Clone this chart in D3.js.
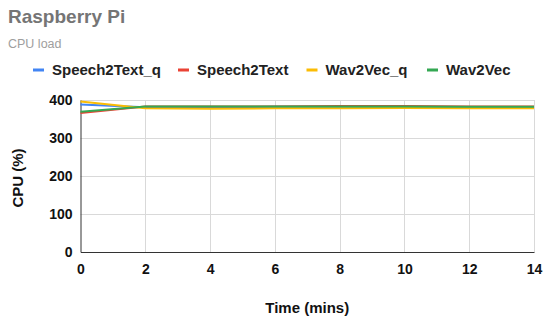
<!DOCTYPE html>
<html>
<head>
<meta charset="utf-8">
<script src="https://cdn.jsdelivr.net/npm/d3@7"></script>
<style>
  body { margin: 0; background: #fff; }
  text { font-family: "Liberation Sans", Arial, sans-serif; }
</style>
</head>
<body>
<div id="chart"></div>
<script>
const width = 550;
const height = 322;

// minutes
const times = [0, 2, 4, 6, 8, 10, 12, 14];

// CPU load (%)
const speech2TextQ = [388, 381, 381, 382, 382, 380, 381, 380];
const speech2Text  = [366, 383, 383, 383, 384, 384, 383, 383];
const wav2VecQ     = [396, 378, 377, 378, 378, 379, 378, 378];
const wav2Vec      = [369, 383, 383, 383, 383, 383, 382, 382];

const seriesNames = ["Speech2Text_q", "Speech2Text", "Wav2Vec_q", "Wav2Vec"];
const colors = ["#4285f4", "#ea4335", "#fbbc04", "#34a853"];

const xTicks = [0, 2, 4, 6, 8, 10, 12, 14];
const yTicks = [0, 100, 200, 300, 400];

const series = [speech2TextQ, speech2Text, wav2VecQ, wav2Vec].map((vals, i) => ({
  name: seriesNames[i],
  color: colors[i],
  values: vals.map((v, j) => ({ t: times[j], v: v }))
}));

const margin = { left: 80.5, right: 16, top: 100, bottom: 70 };

const x = d3.scaleLinear().domain([0, 14]).range([margin.left, width - margin.right]);
const y = d3.scaleLinear().domain([0, 400]).range([height - margin.bottom, margin.top]);

const svg = d3.select("#chart").append("svg")
  .attr("width", width)
  .attr("height", height);

// titles
svg.append("text")
  .attr("x", 8).attr("y", 23)
  .attr("fill", "#757575")
  .style("font-size", "19px").style("font-weight", "bold")
  .text("Raspberry Pi");

svg.append("text")
  .attr("x", 8).attr("y", 48)
  .attr("fill", "#9e9e9e")
  .style("font-size", "12.5px")
  .text("CPU load");

// legend (dash positions as in the original)
const legendX = [33, 178, 306.5, 427];
series.forEach((s, i) => {
  const lx = legendX[i];
  svg.append("rect")
    .attr("x", lx).attr("y", 68.5)
    .attr("width", 11).attr("height", 3)
    .attr("fill", s.color);
  svg.append("text")
    .attr("x", lx + 19).attr("y", 75)
    .attr("fill", "#222")
    .style("font-size", "15px").style("font-weight", "bold")
    .text(s.name);
});

// grid
svg.append("g")
  .selectAll("line")
  .data(yTicks.filter(d => d > 0))
  .join("line")
  .attr("x1", x(0)).attr("x2", x(14))
  .attr("y1", d => Math.round(y(d)) + 0.5).attr("y2", d => Math.round(y(d)) + 0.5)
  .attr("stroke", "#d9d9d9");

svg.append("g")
  .selectAll("line")
  .data(xTicks.filter(d => d > 0))
  .join("line")
  .attr("x1", d => Math.round(x(d)) + 0.5).attr("x2", d => Math.round(x(d)) + 0.5)
  .attr("y1", y(0)).attr("y2", y(400))
  .attr("stroke", "#d9d9d9");

// axes
const xAxis = svg.append("g")
  .attr("transform", `translate(0,${y(0)})`)
  .call(d3.axisBottom(x).tickValues(xTicks).tickSize(0).tickPadding(12));
xAxis.select(".domain").attr("stroke", "#333");

const yAxis = svg.append("g")
  .attr("transform", `translate(${x(0)},0)`)
  .call(d3.axisLeft(y).tickValues(yTicks).tickSize(0).tickPadding(8));
yAxis.select(".domain").attr("stroke", "#333");

svg.selectAll(".tick text")
  .attr("fill", "#111")
  .style("font-family", "'Liberation Sans', Arial, sans-serif")
  .style("font-size", "14px").style("font-weight", "bold");

// axis titles
svg.append("text")
  .attr("x", (x(0) + x(14)) / 2).attr("y", 313)
  .attr("text-anchor", "middle")
  .attr("fill", "#111")
  .style("font-size", "15px").style("font-weight", "bold")
  .text("Time (mins)");

svg.append("text")
  .attr("transform", `translate(23,${(y(0) + y(400)) / 2 + 2}) rotate(-90)`)
  .attr("text-anchor", "middle")
  .attr("fill", "#111")
  .style("font-size", "15px").style("font-weight", "bold")
  .text("CPU (%)");

// lines
const line = d3.line()
  .x(d => x(d.t))
  .y(d => y(d.v));

svg.append("g")
  .selectAll("path")
  .data(series)
  .join("path")
  .attr("d", d => line(d.values))
  .attr("fill", "none")
  .attr("stroke", d => d.color)
  .attr("stroke-width", 2);
</script>
</body>
</html>
